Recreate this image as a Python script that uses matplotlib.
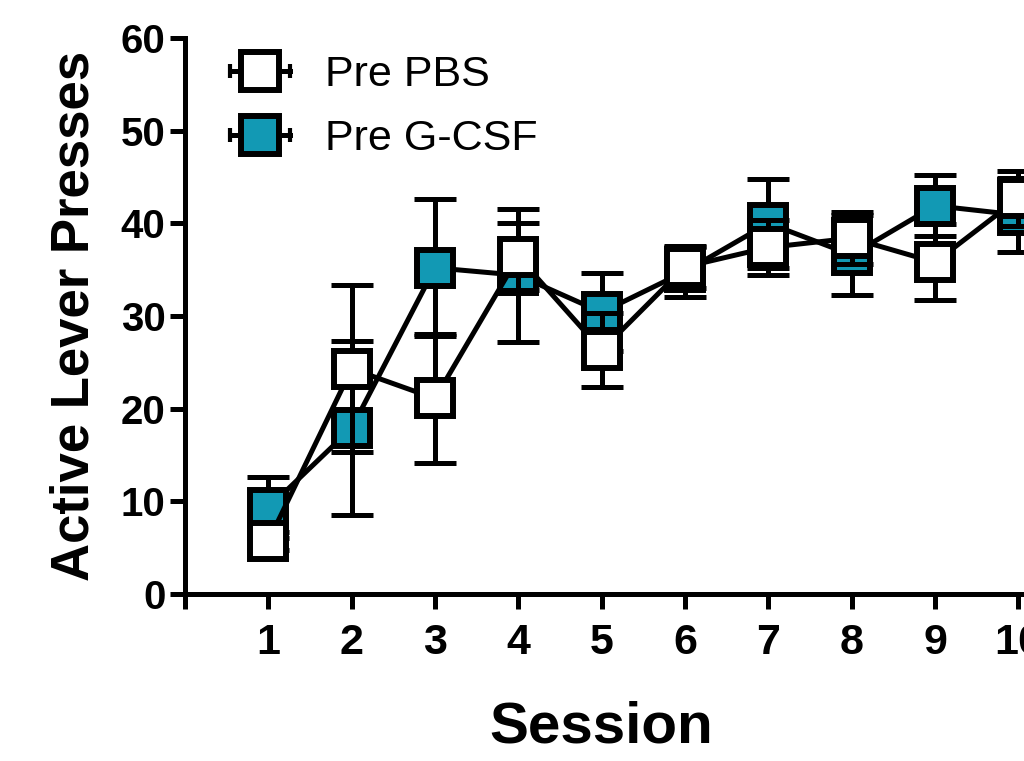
import numpy as np
import matplotlib
matplotlib.use("Agg")
import matplotlib.pyplot as plt
from matplotlib.lines import Line2D
from matplotlib.legend_handler import HandlerLine2D, HandlerTuple

plt.rcParams['font.family'] = ['Liberation Sans', 'DejaVu Sans']

# data (mean +/- sem)
sessions = [1, 2, 3, 4, 5, 6, 7, 8, 9, 10]
pbs_mean = [5.7, 24.3, 21.1, 36.4, 26.3, 35.3, 37.4, 38.4, 35.8, 42.7]
pbs_sem = [1.0, 9.0, 7.0, 3.6, 4.0, 2.3, 3.0, 2.8, 4.1, 3.0]
gcsf_mean = [9.3, 17.9, 35.2, 34.4, 30.4, 34.8, 40.0, 36.6, 41.9, 40.9]
gcsf_sem = [3.3, 9.4, 7.4, 7.2, 4.2, 2.7, 4.8, 4.3, 3.3, 4.0]
yticks = [0, 10, 20, 30, 40, 50, 60]

teal = '#1299b4'
lw = 3.6

fig = plt.figure(figsize=(10.24, 7.61), dpi=100)
# axes runs off the right edge like the reference crop
ax = fig.add_axes([185 / 1024, 167 / 761, 875 / 1024, 556 / 761])

def draw(mean, sem, face, z):
    ax.errorbar(sessions, mean, yerr=sem, fmt='none', ecolor='k',
                elinewidth=lw, capsize=15, capthick=lw, zorder=z)
    ax.plot(sessions, mean, color='k', lw=lw, marker='s', ms=26,
            mfc=face, mec='k', mew=4.3, zorder=z + 0.5)

draw(gcsf_mean, gcsf_sem, teal, 2)
draw(pbs_mean, pbs_sem, 'white', 4)

ax.set_xlim(0, 10.5)
ax.set_ylim(0, 60)
ax.set_xticks(range(0, 11))
ax.set_xticklabels([''] + [str(s) for s in sessions])
ax.set_yticks(yticks)

for s in ['top', 'right']:
    ax.spines[s].set_visible(False)
for s in ['left', 'bottom']:
    ax.spines[s].set_linewidth(lw)
ax.tick_params(axis='both', width=lw, length=11)
ax.tick_params(axis='y', pad=3, labelsize=29)
ax.tick_params(axis='x', pad=10, labelsize=31)
for lab in ax.get_xticklabels() + ax.get_yticklabels():
    lab.set_fontweight('bold')

ax.set_xlabel('Session', fontsize=42, fontweight='bold')
ax.xaxis.set_label_coords((601 - 185) / 875, -0.192)
ax.set_ylabel('Active Lever Presses', fontsize=38, fontweight='bold')
ax.yaxis.set_label_coords(-0.098, 0.5)

# legend handles: line with end ticks + square marker
def handle(face):
    ln = Line2D([], [], color='k', lw=lw, marker='|', ms=10, mew=3)
    mk = Line2D([], [], ls='none', marker='s', ms=27, mfc=face, mec='k', mew=4.3)
    return (ln, mk), ln, mk

h1, l1, m1 = handle('white')
h2, l2, m2 = handle(teal)
hmap = {l1: HandlerLine2D(numpoints=2, marker_pad=0),
        l2: HandlerLine2D(numpoints=2, marker_pad=0),
        m1: HandlerLine2D(numpoints=1), m2: HandlerLine2D(numpoints=1),
        tuple: HandlerTuple(ndivide=1, pad=0)}
ax.legend([h1, h2], ['Pre PBS', 'Pre G-CSF'], handler_map=hmap,
          loc='upper left', bbox_to_anchor=(45 / 875, 0.969),
          frameon=False, fontsize=31, borderpad=0, borderaxespad=0,
          handlelength=1.39, handletextpad=0.81, labelspacing=0.56)

fig.savefig('out.png', dpi=100)
